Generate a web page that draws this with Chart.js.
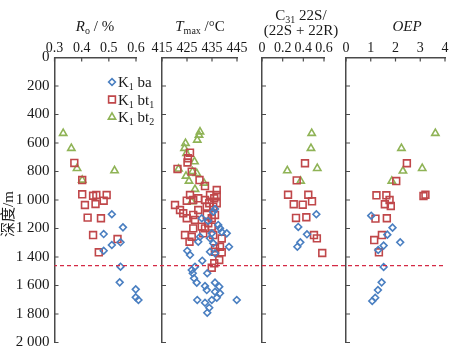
<!DOCTYPE html>
<html lang="zh">
  <head>
    <meta charset="UTF-8" />
    <title>深度剖面</title>
    <style>
      body { margin: 0; background: #fff; }
      #wrap { position: relative; width: 467px; height: 361px; }
      #wrap canvas { position: absolute; top: 0; }
    </style>
  </head>
  <body>
    <div id="wrap">
      <canvas id="c1" width="170" height="361" style="left: 0px"></canvas>
      <canvas id="c2" width="100" height="361" style="left: 150px"></canvas>
      <canvas id="c3" width="100" height="361" style="left: 250px"></canvas>
      <canvas id="c4" width="132" height="361" style="left: 335px"></canvas>
    </div>
    <script src="https://cdn.jsdelivr.net/npm/chart.js"></script>
    <script>
      // depth ticks (m) and the dashed boundary depth
      const depthTicks = [0, 200, 400, 600, 800, 1000, 1200, 1400, 1600, 1800, 2000];
      const boundaryDepth = [1460];

      // Ro / %
      const roBa = [0.511, 0.552, 0.481, 0.511, 0.543, 0.481, 0.543, 0.54, 0.599, 0.599, 0.609];
      const roBaDepth = [1100, 1192, 1239, 1316, 1297, 1356, 1468, 1578, 1627, 1683, 1702];
      const roBt1 = [0.373, 0.402, 0.402, 0.412, 0.442, 0.454, 0.451, 0.492, 0.481, 0.422, 0.471, 0.442, 0.532, 0.463];
      const roBt1Depth = [740, 860, 960, 1035, 970, 965, 1028, 965, 1005, 1124, 1128, 1246, 1274, 1367];
      const roBt2 = [0.332, 0.362, 0.383, 0.402, 0.521];
      const roBt2Depth = [532, 637, 778, 860, 794];

      // Tmax / °C
      const tmaxBa = [430.9, 435.5, 436.2, 433.4, 437.5, 438.2, 440.9, 430.2, 434.9, 438.9, 429.5, 434.2, 435.5, 441.8, 425.1, 426.2, 434.2, 436.2, 431.1, 428.2, 426.9, 427.3, 427.8, 428.9, 433.1, 436.2, 432.2, 432.9, 437.9, 436.2, 438.2, 436.9, 434.9, 429.1, 432.2, 433.9, 433.1, 444.9];
      const tmaxBaDepth = [1128, 1082, 1063, 1147, 1175, 1199, 1234, 1258, 1234, 1225, 1293, 1269, 1304, 1328, 1356, 1386, 1363, 1374, 1426, 1468, 1491, 1514, 1549, 1580, 1514, 1580, 1604, 1632, 1608, 1644, 1655, 1686, 1702, 1702, 1721, 1756, 1791, 1702];
      const tmaxBt1 = [426.2, 425.4, 425.2, 421.2, 426.9, 430.0, 432.2, 436.9, 434.2, 436.9, 435.9, 429.5, 432.2, 424.9, 426.2, 427.5, 433.9, 436.9, 420.2, 422.2, 423.5, 429.5, 432.9, 435.5, 427.5, 424.9, 432.9, 436.2, 434.9, 428.2, 433.5, 430.9, 432.2, 434.9, 427.5, 424.2, 426.9, 431.5, 435.5, 438.9, 426.0, 438.2, 436.2, 438.9, 436.2, 437.9, 435.9, 434.9];
      const tmaxBt1Depth = [668, 707, 737, 782, 801, 860, 902, 930, 965, 965, 988, 988, 1000, 1005, 965, 1000, 1023, 1023, 1035, 1070, 1093, 1070, 1047, 1047, 1105, 1128, 1105, 1105, 1128, 1140, 1163, 1187, 1199, 1187, 1199, 1246, 1258, 1234, 1246, 1270, 1293, 1328, 1339, 1367, 1363, 1421, 1444, 1475];
      const tmaxBt2 = [430.2, 429.8, 429.1, 424.4, 424.0, 424.8, 428.0, 421.6, 427.2, 428.9, 424.6, 425.8, 431.8, 428.2, 426.9];
      const tmaxBt2Depth = [521, 544, 579, 602, 637, 672, 731, 782, 800, 813, 832, 867, 881, 925, 1012];

      // C31 22S/(22S+22R)
      const c31Ba = [0.526, 0.351, 0.435, 0.371, 0.342];
      const c31BaDepth = [1100, 1189, 1241, 1297, 1328];
      const c31Bt1 = [0.416, 0.336, 0.252, 0.448, 0.484, 0.307, 0.394, 0.329, 0.429, 0.503, 0.531, 0.583];
      const c31Bt1Depth = [742, 862, 963, 963, 1009, 1030, 1033, 1126, 1121, 1246, 1269, 1372];
      const c31Bt2 = [0.481, 0.474, 0.245, 0.535, 0.374];
      const c31Bt2Depth = [532, 637, 794, 778, 867];

      // OEP
      const oepBa = [1.02, 1.88, 1.67, 2.19, 1.52, 1.3, 1.52, 1.44, 1.29, 1.18, 1.06];
      const oepBaDepth = [1110, 1194, 1243, 1297, 1320, 1351, 1470, 1578, 1632, 1686, 1709];
      const oepBt1 = [2.46, 2.03, 1.23, 1.63, 1.76, 1.57, 1.81, 3.13, 3.21, 1.19, 1.65, 1.45, 1.14, 1.33];
      const oepBt1Depth = [742, 867, 967, 967, 1000, 1030, 1042, 972, 963, 1131, 1128, 1246, 1281, 1367];
      const oepBt2 = [3.61, 2.24, 2.3, 3.08, 1.85];
      const oepBt2Depth = [532, 637, 796, 778, 867];

      const serif = '"Liberation Serif", "Noto Sans CJK SC", serif';
      const axisColor = '#4a4a4a';
      const textColor = '#1a1a1a';
      const blue = '#4a7fc1';
      const red = '#c0474a';
      const green = '#8fb356';

      const series = [
        { name: [{ t: 'K' }, { t: '1', sub: true }, { t: ' ba' }], style: 'rectRot', radius: 3.4, color: blue },
        { name: [{ t: 'K' }, { t: '1', sub: true }, { t: ' bt' }, { t: '1', sub: true }], style: 'rect', radius: 4.8, color: red },
        { name: [{ t: 'K' }, { t: '1', sub: true }, { t: ' bt' }, { t: '2', sub: true }], style: 'triangle', radius: 4.2, color: green },
      ];

      const panels = [
        {
          id: 'c1', left: 0, yWidth: 54.5, padRight: 34, min: 0.3, max: 0.6, step: 0.1, fmt: (v) => v.toFixed(1),
          showY: true, dashFrom: null, dashTo: 150,
          xs: [roBa, roBt1, roBt2], ys: [roBaDepth, roBt1Depth, roBt2Depth],
          title: [[{ t: 'R', italic: true }, { t: 'o', sub: true }, { t: ' / %' }]], titleX: 95, titleY: [31],
        },
        {
          id: 'c2', left: 150, yWidth: 12, padRight: 13, min: 415, max: 445, step: 10, fmt: (v) => String(v),
          showY: false, dashFrom: 0, dashTo: 100,
          xs: [tmaxBa, tmaxBt1, tmaxBt2], ys: [tmaxBaDepth, tmaxBt1Depth, tmaxBt2Depth],
          title: [[{ t: 'T', italic: true }, { t: 'max', sub: true }, { t: ' /°C' }]], titleX: 50, titleY: [31],
        },
        {
          id: 'c3', left: 250, yWidth: 12, padRight: 26, min: 0, max: 0.6, step: 0.2, fmt: (v) => (v === 0 ? '0' : v.toFixed(1)),
          showY: false, dashFrom: 0, dashTo: 85,
          xs: [c31Ba, c31Bt1, c31Bt2], ys: [c31BaDepth, c31Bt1Depth, c31Bt2Depth],
          title: [[{ t: 'C' }, { t: '31', sub: true }, { t: ' 22S/' }], [{ t: '(22S + 22R)' }]], titleX: 51, titleY: [20, 35],
        },
        {
          id: 'c4', left: 335, yWidth: 11, padRight: 22, min: 0, max: 4, step: 1, fmt: (v) => String(v),
          showY: false, dashFrom: 0, dashTo: null,
          xs: [oepBa, oepBt1, oepBt2], ys: [oepBaDepth, oepBt1Depth, oepBt2Depth],
          title: [[{ t: 'OEP', italic: true }]], titleX: 72, titleY: [31],
        },
      ];

      const drawRich = (ctx, parts, x, y, align) => {
        const fontOf = (p) => (p.italic ? 'italic ' : '') + (p.sub ? 10 : 15) + 'px ' + serif;
        let total = 0;
        parts.forEach((p) => {
          ctx.font = fontOf(p);
          total += ctx.measureText(p.t).width;
        });
        let cx = align === 'center' ? x - total / 2 : x;
        ctx.textAlign = 'left';
        ctx.textBaseline = 'alphabetic';
        ctx.fillStyle = textColor;
        parts.forEach((p) => {
          ctx.font = fontOf(p);
          ctx.fillText(p.t, cx, y + (p.sub ? 3 : 0));
          cx += ctx.measureText(p.t).width;
        });
      };

      const spaced = (v) => String(v).replace(/\B(?=(\d{3})+(?!\d))/g, ' ');

      const decorPlugin = (p, index) => ({
        id: 'decor' + index,
        afterDraw(chart) {
          const { ctx, chartArea, scales } = chart;
          ctx.save();
          // inward tick marks
          ctx.strokeStyle = axisColor;
          ctx.lineWidth = 1.2;
          ctx.beginPath();
          scales.y.ticks.forEach((t) => {
            const py = scales.y.getPixelForValue(t.value);
            ctx.moveTo(chartArea.left, py);
            ctx.lineTo(chartArea.left + 4, py);
          });
          scales.x.ticks.forEach((t) => {
            const px = scales.x.getPixelForValue(t.value);
            ctx.moveTo(px, chartArea.top);
            ctx.lineTo(px, chartArea.top + 4);
          });
          ctx.stroke();

          // dashed boundary
          const by = scales.y.getPixelForValue(boundaryDepth[0]);
          const x0 = p.dashFrom === null ? chartArea.left : p.dashFrom;
          const x1 = p.dashTo === null ? chartArea.right : p.dashTo;
          ctx.strokeStyle = '#d42a45';
          ctx.lineWidth = 1.2;
          ctx.setLineDash([4, 3]);
          ctx.lineDashOffset = -(p.left + x0);
          ctx.beginPath();
          ctx.moveTo(x0, by);
          ctx.lineTo(x1, by);
          ctx.stroke();
          ctx.setLineDash([]);

          // axis title
          p.title.forEach((line, i) => drawRich(ctx, line, p.titleX, p.titleY[i], 'center'));

          if (index === 0) {
            // depth title
            ctx.save();
            ctx.translate(9, 214);
            ctx.rotate(-Math.PI / 2);
            ctx.font = '15px ' + serif;
            ctx.fillStyle = textColor;
            ctx.textAlign = 'center';
            ctx.textBaseline = 'middle';
            ctx.fillText('深度/m', 0, 0);
            ctx.restore();

            // legend
            series.forEach((s, i) => {
              const ly = 82 + i * 17.5;
              ctx.strokeStyle = s.color;
              ctx.fillStyle = 'rgba(0,0,0,0)';
              ctx.lineWidth = 1.6;
              Chart.helpers.drawPoint(ctx, { pointStyle: s.style, radius: s.radius, borderWidth: 1.6, rotation: 0 }, 112, ly);
              drawRich(ctx, s.name, 118, ly + 5, 'left');
            });
          }
          ctx.restore();
        },
      });

      panels.forEach((p, index) => {
        new Chart(document.getElementById(p.id), {
          type: 'scatter',
          data: {
            datasets: series.map((s, i) => ({
              label: s.name.map((n) => n.t).join(''),
              data: p.xs[i].map((x, k) => ({ x: x, y: p.ys[i][k] })),
              pointStyle: s.style,
              pointRadius: s.radius,
              borderColor: s.color,
              backgroundColor: 'rgba(0,0,0,0)',
              borderWidth: 1.6,
              clip: false,
            })),
          },
          options: {
            responsive: false,
            animation: false,
            events: [],
            layout: { padding: { left: 0, right: p.padRight, top: 0, bottom: 18.5 } },
            plugins: { legend: { display: false }, tooltip: { enabled: false } },
            scales: {
              x: {
                type: 'linear',
                position: 'top',
                min: p.min,
                max: p.max,
                ticks: { stepSize: p.step, autoSkip: false, maxRotation: 0, padding: 1, font: { family: serif, size: 14 }, color: textColor, callback: p.fmt },
                grid: { display: false, drawTicks: false },
                border: { display: true, color: axisColor, width: 1.5 },
                afterFit: (s) => {
                  s.height = 57.5;
                },
              },
              y: {
                type: 'linear',
                reverse: true,
                min: depthTicks[0],
                max: depthTicks[depthTicks.length - 1],
                ticks: { stepSize: 200, display: p.showY, padding: 5, font: { family: serif, size: 15 }, color: textColor, callback: (v) => spaced(v) },
                grid: { display: false, drawTicks: false },
                border: { display: true, color: axisColor, width: 1.5 },
                afterFit: (s) => {
                  s.width = p.yWidth;
                },
              },
            },
          },
          plugins: [decorPlugin(p, index)],
        });
      });
    </script>
  </body>
</html>
